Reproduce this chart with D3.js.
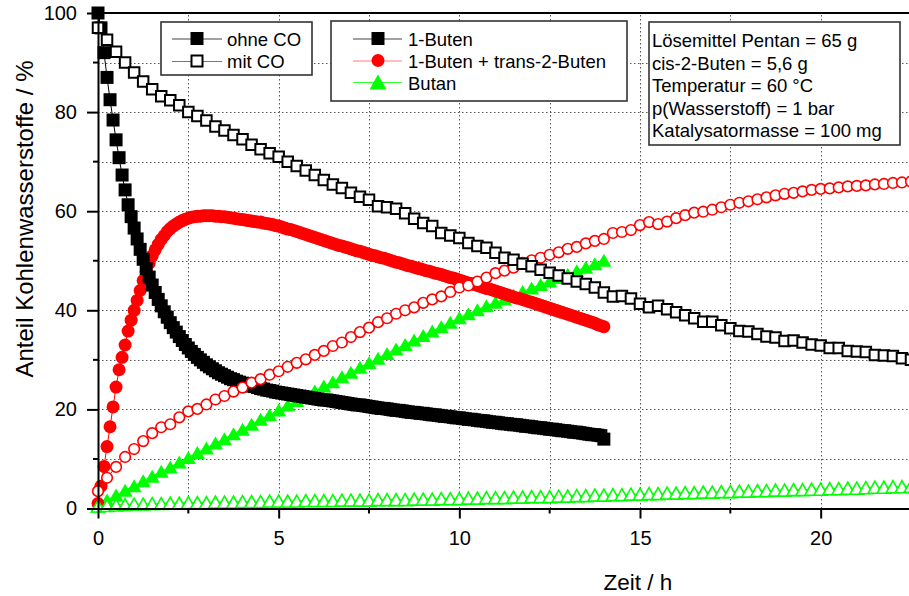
<!DOCTYPE html>
<html>
<head>
<meta charset="utf-8">
<script src="https://cdn.jsdelivr.net/npm/d3@7"></script>
<style>
  html, body { margin: 0; padding: 0; background: #fff; }
  svg { display: block; }
  text { font-family: "Liberation Sans", Arial, sans-serif; fill: #000; }
</style>
</head>
<body>
<svg id="chart" width="909" height="596"></svg>
<script>
// ---------------- DATA ----------------
// sampling intervals (hours)
const stepFine = 1 / 12;   // "ohne CO" 1-Buten & 1-Buten + trans-2-Buten: every 5 min
const stepCoarse = 0.25;   // Butan (ohne CO) and all "mit CO" series: every 15 min

// ohne CO (filled markers), t = 0 ... 14 h
const butenOhneCO = [
  100, 97, 92, 87, 82.5, 78.4, 74.4, 70.8, 67.3, 64.3, 61.3, 58.9,
  56.6, 54.4, 52.3, 50.3, 48.4, 46.7, 45.1, 43.6, 42.2, 40.9, 39.7, 38.6,
  37.5, 36.5, 35.6, 34.7, 33.9, 33.1, 32.4, 31.7, 31.1, 30.5, 30.0, 29.5,
  29.0, 28.6, 28.2, 27.8, 27.4, 27.1, 26.8, 26.5, 26.2, 26.0, 25.7, 25.5,
  25.3, 25.1, 24.9, 24.7, 24.6, 24.4, 24.2, 24.1, 23.9, 23.8, 23.7, 23.5,
  23.4, 23.3, 23.2, 23.1, 23.0, 22.9, 22.8, 22.7, 22.6, 22.5, 22.4, 22.3,
  22.2, 22.1, 22.0, 21.9, 21.9, 21.8, 21.7, 21.6, 21.5, 21.4, 21.3, 21.2,
  21.1, 21.0, 20.9, 20.9, 20.8, 20.7, 20.6, 20.5, 20.4, 20.3, 20.2, 20.2,
  20.1, 20.0, 19.9, 19.8, 19.8, 19.7, 19.6, 19.5, 19.4, 19.4, 19.3, 19.2,
  19.2, 19.1, 19.0, 18.9, 18.9, 18.8, 18.7, 18.6, 18.6, 18.5, 18.4, 18.3,
  18.3, 18.2, 18.1, 18.0, 18.0, 17.9, 17.8, 17.7, 17.7, 17.6, 17.5, 17.4,
  17.4, 17.3, 17.2, 17.1, 17.1, 17.0, 16.9, 16.9, 16.8, 16.7, 16.6, 16.6,
  16.5, 16.4, 16.3, 16.3, 16.2, 16.1, 16.0, 16.0, 15.9, 15.8, 15.7, 15.7,
  15.6, 15.5, 15.4, 15.4, 15.3, 15.2, 15.1, 15.0, 14.9, 14.9, 14.8, 14.7,
  14.0
];
const butenTransOhneCO = [
  1.0, 4.5, 8.5, 12.5, 16.5, 20.5, 24.5, 28.0, 30.5, 33.0, 35.8, 38.0,
  40.0, 42.0, 44.0, 46.0, 47.8, 49.5, 51.0, 52.2, 53.3, 54.3, 55.1, 55.9,
  56.5, 57.0, 57.4, 57.8, 58.1, 58.4, 58.6, 58.8, 58.9, 59.0, 59.0, 59.1,
  59.1, 59.1, 59.1, 59.0, 59.0, 58.9, 58.9, 58.8, 58.7, 58.6, 58.5, 58.4,
  58.3, 58.2, 58.1, 58.0, 57.9, 57.8, 57.8, 57.6, 57.5, 57.4, 57.3, 57.1,
  57.0, 56.8, 56.6, 56.4, 56.3, 56.1, 55.9, 55.7, 55.5, 55.3, 55.1, 54.9,
  54.7, 54.5, 54.3, 54.1, 53.9, 53.7, 53.5, 53.3, 53.1, 53.0, 52.8, 52.6,
  52.4, 52.2, 52.0, 51.9, 51.7, 51.5, 51.3, 51.1, 51.0, 50.8, 50.6, 50.5,
  50.3, 50.1, 49.9, 49.7, 49.6, 49.4, 49.2, 49.0, 48.9, 48.7, 48.5, 48.4,
  48.2, 48.0, 47.9, 47.7, 47.5, 47.4, 47.2, 47.0, 46.8, 46.6, 46.5, 46.3,
  46.1, 45.9, 45.7, 45.5, 45.4, 45.2, 45.0, 44.8, 44.6, 44.4, 44.3, 44.1,
  43.9, 43.7, 43.5, 43.3, 43.1, 42.9, 42.7, 42.5, 42.4, 42.2, 42.0, 41.8,
  41.6, 41.4, 41.2, 41.0, 40.8, 40.6, 40.4, 40.2, 40.0, 39.8, 39.6, 39.4,
  39.2, 39.0, 38.8, 38.6, 38.4, 38.2, 38.0, 37.8, 37.6, 37.4, 37.1, 36.9,
  36.7
];
const butanOhneCO = [
  0.5, 1.7, 2.7, 3.7, 4.6, 5.6, 6.5, 7.5, 8.4, 9.4,
  10.3, 11.3, 12.2, 13.2, 14.1, 15.1, 16.0, 17.0, 18.0, 18.9,
  19.9, 20.9, 21.8, 22.8, 23.7, 24.7, 25.6, 26.6, 27.5, 28.5,
  29.4, 30.3, 31.3, 32.2, 33.1, 34.0, 34.9, 35.8, 36.7, 37.6,
  38.5, 39.3, 40.1, 40.9, 41.6, 42.3, 43.1, 43.8, 44.5, 45.2,
  45.9, 46.6, 47.3, 48.0, 48.7, 49.4, 50.1
];

// mit CO (open markers), t = 0 ... 22.5 h
const butenMitCO = [
  97.0, 94.6, 92.2, 90.0, 88.0, 86.2, 84.6, 83.2, 82.4, 81.4,
  80.0, 79.2, 78.3, 77.1, 76.3, 75.4, 74.5, 73.4, 72.5, 71.7,
  71.0, 70.0, 69.1, 68.2, 67.3, 66.3, 65.4, 64.7, 63.7, 62.9,
  62.3, 61.0, 60.8, 60.5, 59.6, 58.5, 57.6, 57.0, 55.6, 55.1,
  54.6, 53.6, 53.0, 52.6, 51.6, 50.6, 50.2, 49.4, 48.9, 48.2,
  47.6, 47.0, 46.4, 45.8, 45.3, 44.6, 43.6, 42.8, 42.9, 42.4,
  41.3, 40.6, 40.9, 40.2, 39.6, 39.0, 38.4, 37.7, 37.7, 37.0,
  36.4, 35.8, 35.7, 35.2, 34.7, 34.5, 33.8, 33.9, 33.5, 33.1,
  32.9, 32.4, 32.4, 31.8, 31.7, 31.6, 31.0, 30.9, 30.8, 30.3,
  30.0
];
const butenTransMitCO = [
  3.5, 6.2, 8.4, 10.4, 12.0, 13.6, 15.2, 16.4, 17.0, 18.4,
  19.6, 20.1, 21.0, 22.0, 22.7, 23.6, 24.4, 25.4, 26.1, 27.0,
  27.7, 28.6, 29.4, 30.1, 31.0, 31.8, 32.8, 33.5, 34.6, 35.6,
  36.5, 37.6, 38.4, 39.3, 40.0, 40.6, 41.5, 42.2, 42.8, 43.7,
  44.6, 45.0, 45.8, 46.6, 47.5, 48.0, 48.6, 49.6, 50.1, 50.6,
  51.2, 51.7, 52.4, 52.8, 53.5, 54.0, 54.4, 55.6, 55.8, 56.2,
  57.2, 57.8, 57.4, 57.9, 58.6, 59.2, 59.7, 59.9, 60.3, 60.8,
  61.3, 61.7, 62.0, 62.4, 62.8, 63.2, 63.5, 63.7, 64.0, 64.3,
  64.5, 64.6, 64.8, 65.0, 65.1, 65.2, 65.4, 65.5, 65.7, 65.8,
  66.0
];
const butanMitCO = [
  0.5, 0.6, 0.7, 0.8, 0.9, 0.9, 1.0, 1.0, 1.1, 1.1,
  1.2, 1.2, 1.2, 1.3, 1.3, 1.3, 1.4, 1.4, 1.4, 1.5,
  1.5, 1.5, 1.5, 1.6, 1.6, 1.6, 1.6, 1.7, 1.7, 1.7,
  1.7, 1.8, 1.8, 1.8, 1.8, 1.9, 1.9, 1.9, 2.0, 2.0,
  2.0, 2.1, 2.1, 2.2, 2.2, 2.2, 2.3, 2.3, 2.4, 2.4,
  2.4, 2.5, 2.5, 2.6, 2.6, 2.7, 2.7, 2.8, 2.8, 2.9,
  2.9, 3.0, 3.0, 3.1, 3.1, 3.2, 3.2, 3.3, 3.3, 3.4,
  3.4, 3.5, 3.5, 3.6, 3.6, 3.7, 3.7, 3.8, 3.8, 3.9,
  3.9, 4.0, 4.0, 4.1, 4.1, 4.2, 4.3, 4.3, 4.4, 4.4,
  4.5
];

// axis ticks & labels
const xTickValues = [0, 5, 10, 15, 20];
const xMinorTicks = [2.5, 7.5, 12.5, 17.5];
const xGrid = [2.5, 5, 7.5, 10, 12.5, 15, 17.5, 20];
const yTickValues = [0, 20, 40, 60, 80, 100];
const yMinorTicks = [10, 30, 50, 70, 90];
const yGrid = [10, 20, 30, 40, 50, 60, 70, 80, 90];
const xTitle = "Zeit / h";
const yTitle = "Anteil Kohlenwasserstoffe / %";
const legendCO = ["ohne CO", "mit CO"];
const legendSpecies = ["1-Buten", "1-Buten + trans-2-Buten", "Butan"];
const infoLines = [
  "Lösemittel Pentan = 65 g",
  "cis-2-Buten = 5,6 g",
  "Temperatur = 60 °C",
  "p(Wasserstoff) = 1 bar",
  "Katalysatormasse = 100 mg"
];

// ---------------- DRAWING ----------------
const svg = d3.select("#chart");
svg.append("rect").attr("width", 909).attr("height", 596).attr("fill", "#fff");

const x = d3.scaleLinear().domain([0, 22.5]).range([98, 911]);
const y = d3.scaleLinear().domain([0, 100]).range([508.5, 13]);

const BLACK = "#000", RED = "#ff0000", GREEN = "#00ff00";

// grid
const grid = svg.append("g").attr("stroke", "#555").attr("stroke-width", 1)
  .attr("stroke-dasharray", "1.5,2.5");
grid.selectAll("line.gx").data(xGrid).join("line")
  .attr("x1", d => Math.round(x(d)) + 0.5).attr("x2", d => Math.round(x(d)) + 0.5)
  .attr("y1", y(0)).attr("y2", y(100));
grid.selectAll("line.gy").data(yGrid).join("line")
  .attr("y1", d => Math.round(y(d)) + 0.5).attr("y2", d => Math.round(y(d)) + 0.5)
  .attr("x1", x(0)).attr("x2", 909);

// marker helpers
function triPath(w, h) {
  return `M0,${-h / 2}L${w / 2},${h / 2}L${-w / 2},${h / 2}Z`;
}
function toPoints(vals, step) {
  return vals.map((v, i) => ({ t: i * step, v: v }));
}
const line = d3.line().x(d => x(d.t)).y(d => y(d.v));

function drawSeries(vals, step, color, shape, filled) {
  const pts = toPoints(vals, step);
  const g = svg.append("g");
  g.append("path").datum(pts).attr("d", line)
    .attr("fill", "none").attr("stroke", color).attr("stroke-width", 1);
  const m = g.selectAll("path.m").data(pts).join("path")
    .attr("class", "m")
    .attr("transform", d => `translate(${x(d.t)},${y(d.v)})`);
  if (shape === "square") {
    const s = filled ? 13 : 10.5;
    m.attr("d", `M${-s / 2},${-s / 2}h${s}v${s}h${-s}Z`);
  } else if (shape === "circle") {
    m.attr("d", filled ? d3.symbol(d3.symbolCircle, Math.PI * 6.5 * 6.5)() : d3.symbol(d3.symbolCircle, Math.PI * 5.3 * 5.3)());
  } else {
    m.attr("d", filled ? triPath(15, 13) : triPath(13.5, 12));
  }
  if (filled) {
    m.attr("fill", color).attr("stroke", "none");
  } else {
    m.attr("fill", "#fff").attr("stroke", color).attr("stroke-width", shape === "square" ? 2 : 1.6);
  }
}

drawSeries(butanOhneCO, stepCoarse, GREEN, "triangle", true);
drawSeries(butenTransOhneCO, stepFine, RED, "circle", true);
drawSeries(butenOhneCO, stepFine, BLACK, "square", true);
drawSeries(butanMitCO, stepCoarse, GREEN, "triangle", false);
drawSeries(butenTransMitCO, stepCoarse, RED, "circle", false);
drawSeries(butenMitCO, stepCoarse, BLACK, "square", false);

// axes
const fontTick = "20px";
const yAxis = d3.axisLeft(y).tickValues(yTickValues).tickSize(11).tickSizeOuter(0).tickPadding(10);
const gy = svg.append("g").attr("transform", `translate(${x(0)},0)`).call(yAxis);
gy.select(".domain").attr("stroke", "#000").attr("stroke-width", 2);
gy.selectAll(".tick line").attr("stroke", "#000").attr("stroke-width", 2);
gy.selectAll(".tick text").style("font-size", fontTick).attr("font-family", null);
gy.selectAll("line.minor").data(yMinorTicks).join("line").attr("class", "minor")
  .attr("x1", -5).attr("x2", 0).attr("y1", d => y(d)).attr("y2", d => y(d))
  .attr("stroke", "#000").attr("stroke-width", 2);

const xAxis = d3.axisBottom(x).tickValues(xTickValues).tickSize(10).tickSizeOuter(0).tickPadding(12);
const gx = svg.append("g").attr("transform", `translate(0,${y(0)})`).call(xAxis);
gx.select(".domain").attr("stroke", "#000").attr("stroke-width", 2);
gx.selectAll(".tick line").attr("stroke", "#000").attr("stroke-width", 2);
gx.selectAll(".tick text").style("font-size", fontTick).attr("font-family", null);
gx.selectAll("line.minor").data(xMinorTicks).join("line").attr("class", "minor")
  .attr("y1", 0).attr("y2", 5).attr("x1", d => x(d)).attr("x2", d => x(d))
  .attr("stroke", "#000").attr("stroke-width", 2);

// top frame
svg.append("line").attr("x1", x(0) - 1).attr("x2", 909).attr("y1", y(100)).attr("y2", y(100))
  .attr("stroke", "#000").attr("stroke-width", 2);

// axis titles
svg.append("text").attr("x", 638).attr("y", 590).attr("text-anchor", "middle")
  .style("font-size", "22.5px").text(xTitle);
svg.append("text").attr("transform", "translate(33,219) rotate(-90)").attr("text-anchor", "middle")
  .style("font-size", "24px").text(yTitle);

// legend 1 (CO)
const lg1 = svg.append("g");
lg1.append("rect").attr("x", 161).attr("y", 22).attr("width", 151).attr("height", 53)
  .attr("fill", "#fff").attr("stroke", "#333").attr("stroke-width", 1.6);
const lg1y = [38.5, 61];
legendCO.forEach((lab, i) => {
  lg1.append("line").attr("x1", 172).attr("x2", 222).attr("y1", lg1y[i] + 0.5).attr("y2", lg1y[i] + 0.5)
    .attr("stroke", i === 0 ? "#444" : "#777").attr("stroke-width", 1);
  if (i === 0) {
    lg1.append("rect").attr("x", 197 - 6.5).attr("y", lg1y[i] - 6.5).attr("width", 13).attr("height", 13).attr("fill", "#000");
  } else {
    lg1.append("rect").attr("x", 197 - 5.5).attr("y", lg1y[i] - 5.5).attr("width", 11).attr("height", 11)
      .attr("fill", "#fff").attr("stroke", "#000").attr("stroke-width", 2);
  }
  lg1.append("text").attr("x", 227).attr("y", lg1y[i] + 7).style("font-size", "18.5px").text(lab);
});

// legend 2 (species)
const lg2 = svg.append("g");
lg2.append("rect").attr("x", 331).attr("y", 21).attr("width", 296).attr("height", 80)
  .attr("fill", "#fff").attr("stroke", "#333").attr("stroke-width", 1.6);
const lg2y = [38.5, 60.5, 82];
const lg2col = ["#444", "#ff7a7a", "#33ff33"];
legendSpecies.forEach((lab, i) => {
  lg2.append("line").attr("x1", 353).attr("x2", 402).attr("y1", lg2y[i] + 0.5).attr("y2", lg2y[i] + 0.5)
    .attr("stroke", lg2col[i]).attr("stroke-width", 1);
  const mk = lg2.append("path").attr("transform", `translate(378,${lg2y[i]})`);
  if (i === 0) mk.attr("d", "M-6.5,-6.5h13v13h-13Z").attr("fill", "#000");
  else if (i === 1) mk.attr("d", d3.symbol(d3.symbolCircle, Math.PI * 6.5 * 6.5)()).attr("fill", RED);
  else mk.attr("d", triPath(17, 15)).attr("fill", GREEN);
  lg2.append("text").attr("x", 408).attr("y", lg2y[i] + 7.5).style("font-size", "18.5px").text(lab);
});

// info box
const ib = svg.append("g");
ib.append("rect").attr("x", 649).attr("y", 22).attr("width", 251).attr("height", 123)
  .attr("fill", "#fff").attr("stroke", "#333").attr("stroke-width", 1.6);
infoLines.forEach((s, i) => {
  ib.append("text").attr("x", 652).attr("y", 47 + i * 22.5).style("font-size", "18.5px").text(s);
});
</script>
</body>
</html>
